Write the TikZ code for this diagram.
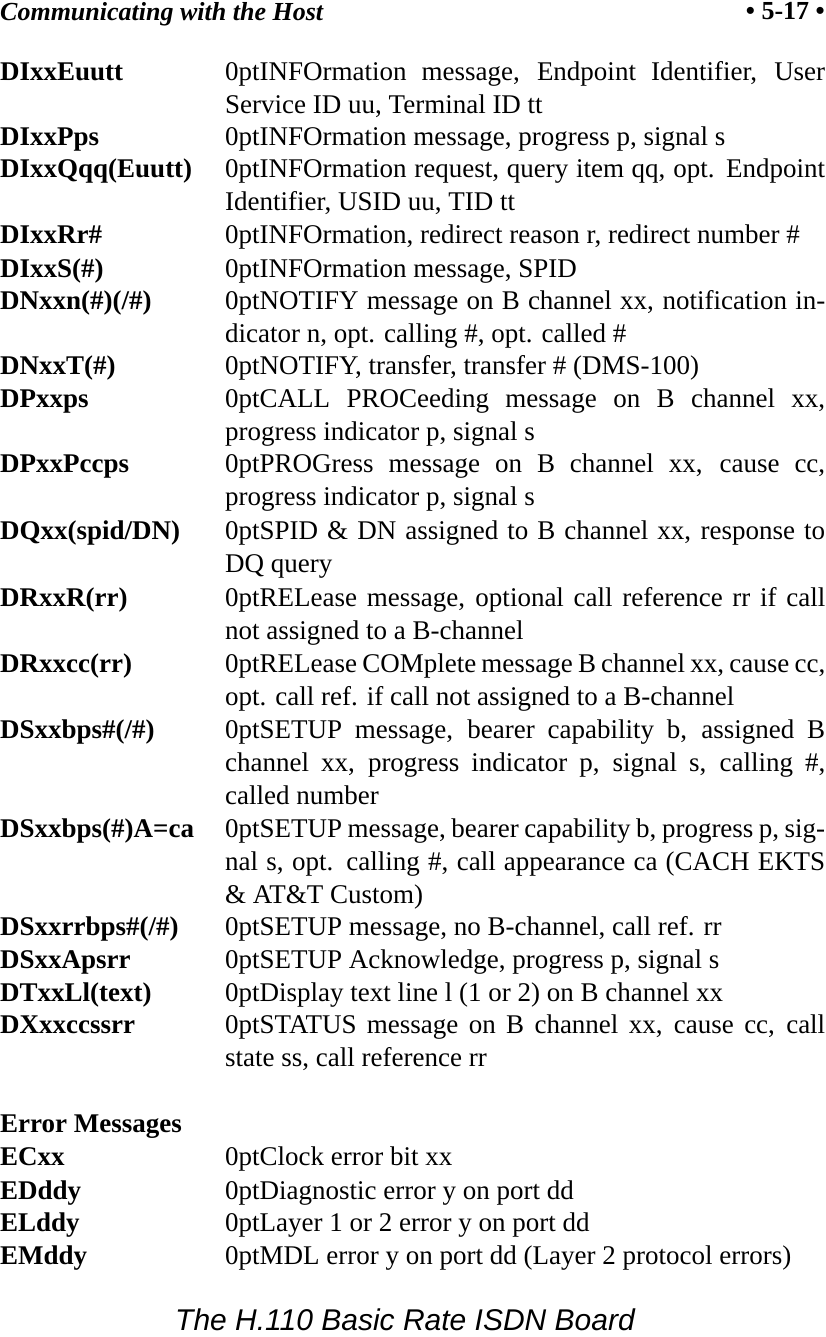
\documentclass[tikz,border=0pt]{standalone}
\usepackage{fontspec}
\setmainfont{Liberation Serif}
\newfontfamily\footfont{Liberation Sans}
\begin{document}
\begin{tikzpicture}[x=1pt,y=-1pt,
  lab/.style={anchor=north west,inner sep=0pt,font=\fontsize{27}{33}\selectfont\bfseries},
  desc/.style={anchor=north west,inner sep=0pt,text width=600pt,align=justify,font=\fontsize{27}{33}\selectfont\hyphenpenalty=10000\exhyphenpenalty=10000}]
\useasboundingbox (0,0) rectangle (825,1337);
\node[anchor=north west,inner sep=0pt,font=\fontsize{26}{30}\selectfont\bfseries\itshape] (h1) at (0,2) {Communicating with the Host};
\node[anchor=north east,inner sep=0pt,font=\fontsize{26}{30}\selectfont\bfseries] (h2) at (825,2) {• 5-17 •};
\newcommand\entry[4]{\node[lab] (l#1) at (0,#2-14) {\strut#3}; \node[desc] (d#1) at (225,#2-14) {\strut#4};}
\entry{a}{71}{DIxxEuutt}{INFOrmation message, Endpoint Identifier, User Service ID uu, Terminal ID tt}
\entry{b}{136}{DIxxPps}{INFOrmation message, progress p, signal s}
\entry{c}{168}{DIxxQqq(Euutt)}{INFOrmation request, query item qq, opt. Endpoint Identifier, USID uu, TID tt}
\entry{d}{234}{DIxxRr\#}{INFOrmation, redirect reason r, redirect number \#}
\entry{e}{268}{DIxxS(\#)}{INFOrmation message, SPID}
\entry{f}{300}{DNxxn(\#)(/\#)}{NOTIFY message on B channel xx, notification indicator n, opt. calling \#, opt. called \#}
\entry{g}{365}{DNxxT(\#)}{NOTIFY, transfer, transfer \# (DMS-100)}
\entry{h}{398}{DPxxps}{CALL PROCeeding message on B channel xx, progress indicator p, signal s}
\entry{i}{463}{DPxxPccps}{PROGress message on B channel xx, cause cc, progress indicator p, signal s}
\entry{j}{530}{DQxx(spid/DN)}{SPID \& DN assigned to B channel xx, response to DQ query}
\entry{k}{597}{DRxxR(rr)}{RELease message, optional call reference rr if call not assigned to a B-channel}
\entry{l}{663}{DRxxcc(rr)}{RELease COMplete message B channel xx, cause cc, opt. call ref. if call not assigned to a B-channel}
\entry{m}{729}{DSxxbps\#(/\#)}{SETUP message, bearer capability b, assigned B channel xx, progress indicator p, signal s, calling \#, called number}
\entry{n}{828}{DSxxbps(\#)A=ca}{SETUP message, bearer capability b, progress p, signal s, opt. calling \#, call appearance ca (CACH EKTS \& AT\&T Custom)}
\entry{o}{926}{DSxxrrbps\#(/\#)}{SETUP message, no B-channel, call ref. rr}
\entry{p}{959}{DSxxApsrr}{SETUP Acknowledge, progress p, signal s}
\entry{q}{992}{DTxxLl(text)}{Display text line l (1 or 2) on B channel xx}
\entry{r}{1024}{DXxxccssrr}{STATUS message on B channel xx, cause cc, call state ss, call reference rr}
\node[lab] (err) at (0,1123-14) {\strut Error Messages};
\entry{s}{1156}{ECxx}{Clock error bit xx}
\entry{t}{1190}{EDddy}{Diagnostic error y on port dd}
\entry{u}{1222}{ELddy}{Layer 1 or 2 error y on port dd}
\entry{v}{1255}{EMddy}{MDL error y on port dd (Layer 2 protocol errors)}
\node[inner sep=0pt,font=\footfont\fontsize{30}{34}\selectfont\itshape] (foot) at (405,1320) {The H.110 Basic Rate ISDN Board};
\end{tikzpicture}
\end{document}
